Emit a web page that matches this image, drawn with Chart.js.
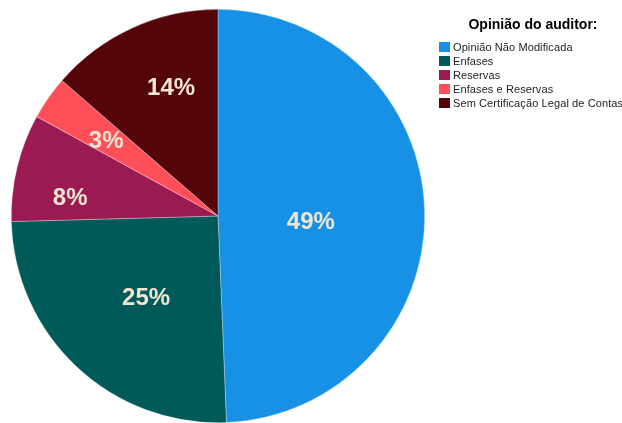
<!DOCTYPE html>
<html>
<head>
<meta charset="utf-8">
<script src="https://cdn.jsdelivr.net/npm/chart.js@4"></script>
<style>
  html, body { margin: 0; padding: 0; background: #fff; }
  #wrap { position: relative; width: 622px; height: 423px; overflow: hidden; }
  #c { position: absolute; left: 0; top: 0; }
  #legend { position: absolute; left: 439px; top: 16px; font-family: "Liberation Sans", Arial, sans-serif; white-space: nowrap; }
  #legend .title { font-weight: bold; font-size: 14px; color: #000; width: 188px; text-align: center; margin-bottom: 8px; }
  #legend .item { font-size: 11px; letter-spacing: 0.1px; color: #222; height: 14px; line-height: 14px; display: flex; align-items: center; }
  #legend .sw { display: inline-block; width: 11px; height: 10px; margin-right: 3px; }
</style>
</head>
<body>
<div id="wrap">
  <canvas id="c" width="622" height="423"></canvas>
  <div id="legend"></div>
</div>
<script>
const legendTitle = "Opinião do auditor:";
const categories = ["Opinião Não Modificada", "Enfases", "Reservas", "Enfases e Reservas", "Sem Certificação Legal de Contas"];
const values = [49.3, 25.2, 8.4, 3.4, 13.6];
const percentLabels = ["49%", "25%", "8%", "3%", "14%"];
const colors = ["#1691E6", "#005A5A", "#9C1A52", "#FF505A", "#55040A"];
// label placement relative to pie centre, as fractions of the radius (style, not data)
const labelOffsets = [[0.449, 0.024], [-0.348, 0.391], [-0.715, -0.092], [-0.541, -0.372], [-0.227, -0.628]];

const leg = document.getElementById('legend');
const t = document.createElement('div'); t.className = 'title'; t.textContent = legendTitle; leg.appendChild(t);
categories.forEach((c, i) => {
  const d = document.createElement('div'); d.className = 'item';
  const s = document.createElement('span'); s.className = 'sw'; s.style.background = colors[i];
  d.appendChild(s); d.appendChild(document.createTextNode(c)); leg.appendChild(d);
});

const labelPlugin = {
  id: 'pctLabels',
  afterDatasetsDraw(chart) {
    const ctx = chart.ctx;
    const meta = chart.getDatasetMeta(0);
    ctx.save();
    ctx.font = 'bold 24px "Liberation Sans", Arial, sans-serif';
    ctx.fillStyle = '#F0E6D2';
    ctx.textAlign = 'center';
    ctx.textBaseline = 'alphabetic';
    meta.data.forEach((arc, i) => {
      const p = arc.getProps(['x', 'y', 'outerRadius'], true);
      const [fx, fy] = labelOffsets[i];
      ctx.fillText(percentLabels[i], p.x + fx * p.outerRadius, p.y + fy * p.outerRadius + 8.5);
    });
    ctx.restore();
  }
};

new Chart(document.getElementById('c'), {
  type: 'pie',
  data: {
    labels: categories,
    datasets: [{ data: values, backgroundColor: colors, borderWidth: 0.6, borderColor: 'rgba(255,255,255,0.5)' }]
  },
  options: {
    responsive: false,
    animation: false,
    layout: { padding: { left: 11, right: 197, top: 9, bottom: 0 } },
    plugins: { legend: { display: false }, tooltip: { enabled: false } }
  },
  plugins: [labelPlugin]
});
</script>
</body>
</html>
